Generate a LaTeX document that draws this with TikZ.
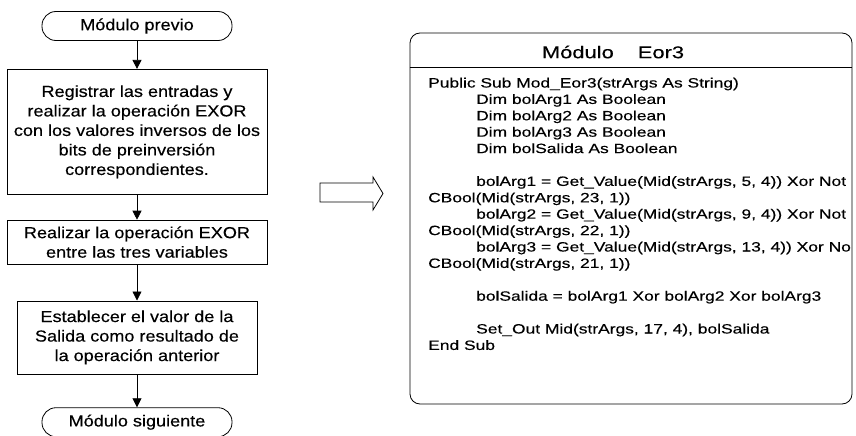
\documentclass[tikz,border=0pt]{standalone}
\usepackage{fontspec}
\setmainfont{Liberation Sans}
\newfontfamily\flowfont[FakeStretch=1.13, FakeBold=0.3]{Liberation Sans}
\newfontfamily\codefont[FakeStretch=1.29, FakeBold=0.3]{Liberation Sans}
\usetikzlibrary{positioning, arrows.meta}

\begin{document}
\begin{tikzpicture}[x=1pt, y=-1pt, term/.style={draw, line width=0.8pt, rounded corners=14pt, minimum width=190pt, minimum height=29pt, inner sep=0pt, font=\flowfont\fontsize{16}{19.5}\selectfont},proc/.style={draw, line width=0.8pt, minimum width=260pt, inner sep=0pt, align=center, font=\flowfont\fontsize{16}{19.5}\selectfont},arr/.style={-{Triangle[length=9pt, width=9pt]}, line width=0.8pt},code/.style={anchor=base west, inner sep=0pt, font=\codefont\fontsize{13.5}{16.4}\selectfont}]
\useasboundingbox (0,0) rectangle (856,436);
% flujo del modulo
\node[term] (prev) at (137,26) {Módulo previo};
\node[proc, minimum height=125pt, below=28pt of prev] (reg) {Registrar las entradas y\\realizar la operación EXOR\\con los valores inversos de los\\bits de preinversión\\correspondientes.};
\node[proc, minimum height=44pt, below=25pt of reg] (exor) {Realizar la operación EXOR\\entre las tres variables};
\node[proc, minimum width=240pt, minimum height=73pt, below=36pt of exor] (sal) {Establecer el valor de la\\Salida como resultado de\\la operación anterior};
\node[term, below=33pt of sal] (sig) {Módulo siguiente};
\draw[arr] (prev)--(reg); \draw[arr] (reg)--(exor); \draw[arr] (exor)--(sal); \draw[arr] (sal)--(sig);
% flecha hueca
\draw[line width=0.8pt] (320,183)--(373,183)--(373,177)--(383,193.5)--(373,210)--(373,202)--(320,202)--cycle;
% codigo
\node[draw, line width=0.8pt, rounded corners=10pt, minimum width=442pt, minimum height=371pt, inner sep=0pt] (mod) at (631,218.5) {};
\node[font=\codefont\fontsize{17}{20}\selectfont] (tit) at (613,52) {Módulo\hspace{24pt}Eor3};
\draw[line width=0.8pt] ([yshift=-35pt]mod.north west)--([yshift=-35pt]mod.north east);
\begin{scope}
\clip (mod.north west) rectangle ([xshift=-1.5pt]mod.south east);
\foreach \k/\xx/\txt [count=\i] in {0/428/{Public Sub Mod\_Eor3(strArgs As String)}, 1/476/{Dim bolArg1 As Boolean}, 2/476/{Dim bolArg2 As Boolean}, 3/476/{Dim bolArg3 As Boolean}, 4/476/{Dim bolSalida As Boolean}, 6/476/{bolArg1 = Get\_Value(Mid(strArgs, 5, 4)) Xor Not}, 7/428/{CBool(Mid(strArgs, 23, 1))}, 8/476/{bolArg2 = Get\_Value(Mid(strArgs, 9, 4)) Xor Not}, 9/428/{CBool(Mid(strArgs, 22, 1))}, 10/476/{bolArg3 = Get\_Value(Mid(strArgs, 13, 4)) Xor Not}, 11/428/{CBool(Mid(strArgs, 21, 1))}, 13/476/{bolSalida = bolArg1 Xor bolArg2 Xor bolArg3}, 15/476/{Set\_Out Mid(strArgs, 17, 4), bolSalida}, 16/428/{End Sub}}
  \node[code] (c\i) at (\xx, 87.5+16.4*\k) {\txt};
\end{scope}
\end{tikzpicture}
\end{document}
